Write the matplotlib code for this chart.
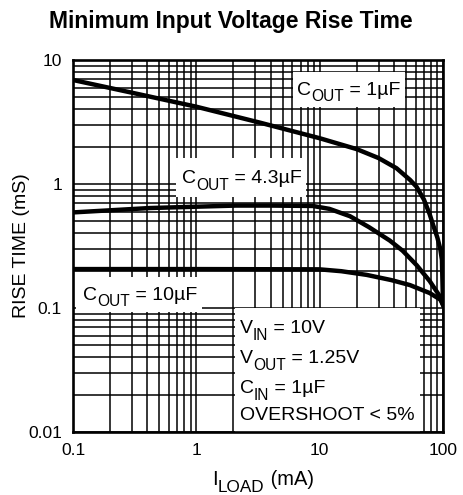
import matplotlib
matplotlib.use("Agg")
import matplotlib.pyplot as plt
from matplotlib.patches import Rectangle
from matplotlib.transforms import offset_copy

plt.rcParams['font.family'] = ['Liberation Sans', 'DejaVu Sans']

# Data (I_LOAD in mA, rise time in ms)
x_1uF = [0.1, 0.3, 1, 3.3, 10, 20, 30, 42, 54, 61, 70, 78, 83, 90, 95, 98, 100]
y_1uF = [6.9, 5.45, 4.2, 3.12, 2.34, 1.91, 1.62, 1.34, 1.08, 0.95, 0.75, 0.57, 0.47, 0.37, 0.30, 0.245, 0.11]

x_43uF = [0.1, 0.42, 2.1, 4, 8.8, 12, 17.6, 25, 37, 47, 61, 78, 95, 100]
y_43uF = [0.59, 0.64, 0.67, 0.67, 0.665, 0.63, 0.55, 0.45, 0.35, 0.29, 0.222, 0.165, 0.123, 0.106]

x_10uF = [0.1, 1, 10, 15, 24, 38, 54, 78, 95, 100]
y_10uF = [0.206, 0.206, 0.205, 0.198, 0.185, 0.168, 0.153, 0.132, 0.117, 0.106]

xticks = [0.1, 1, 10, 100]
xtick_labels = ['0.1', '1', '10', '100']
yticks = [0.01, 0.1, 1, 10]
ytick_labels = ['0.01', '0.1', '1', '10']

fig = plt.figure(figsize=(4.63, 4.95), dpi=100)
ax = fig.add_axes([73/463, 1-432/495, 370/463, 372/495])
ax.set_xscale('log')
ax.set_yscale('log')
ax.set_xlim(0.1, 100)
ax.set_ylim(0.01, 10)

ax.grid(which='both', color='black', lw=1.1, zorder=0)
ax.set_axisbelow(True)
for s in ax.spines.values():
    s.set_linewidth(1.9)
    s.set_zorder(5)

ax.set_xticks(xticks)
ax.set_xticklabels(xtick_labels)
ax.set_yticks(yticks)
ax.set_yticklabels(ytick_labels)
ax.tick_params(which='both', length=0, labelsize=12.5, pad=8)

# white label boxes (axes fraction)
boxes = [(0.594, 0.874, 0.303, 0.094),
         (0.278, 0.632, 0.352, 0.105),
         (0.008, 0.323, 0.341, 0.094),
         (0.438, 0.0, 0.500, 0.333)]
for (bx, by, bw, bh) in boxes:
    ax.add_patch(Rectangle((bx, by), bw, bh, transform=ax.transAxes,
                           facecolor='white', edgecolor='none', zorder=2))

lw = 3.2
for xs, ys in [(x_1uF, y_1uF), (x_43uF, y_43uF), (x_10uF, y_10uF)]:
    ax.plot(xs, ys, color='black', lw=lw, zorder=3, solid_joinstyle='round')

renderer = fig.canvas.get_renderer()


def rich_text(base_trans, x, y, parts, fs, sub_scale=0.8, sub_drop=6.5, ha='left', **kw):
    """parts: list of (string, is_subscript). Draw pieces side by side."""
    texts = []
    dx = 0.0
    for s, sub in parts:
        size = fs * sub_scale if sub else fs
        dy = -sub_drop if sub else 0.0
        tr = offset_copy(base_trans, fig=fig, x=dx, y=dy, units='dots')
        t = fig.text(x, y, s, transform=tr, fontsize=size, va='baseline', ha='left', **kw)
        w = t.get_window_extent(renderer).width
        texts.append((t, dx, dy))
        dx += w
    if ha == 'center':
        for t, d0, d1 in texts:
            t.set_transform(offset_copy(base_trans, fig=fig, x=d0 - dx / 2, y=d1, units='dots'))
    return texts


fs = 14
rich_text(ax.transAxes, 0.605, 0.906, [('C', False), ('OUT', True), (' = 1µF', False)], fs, zorder=4)
rich_text(ax.transAxes, 0.294, 0.669, [('C', False), ('OUT', True), (' = 4.3µF', False)], fs, zorder=4)
rich_text(ax.transAxes, 0.027, 0.355, [('C', False), ('OUT', True), (' = 10µF', False)], fs, zorder=4)

rich_text(ax.transAxes, 0.451, 0.266, [('V', False), ('IN', True), (' = 10V', False)], fs, zorder=4)
rich_text(ax.transAxes, 0.451, 0.185, [('V', False), ('OUT', True), (' = 1.25V', False)], fs, zorder=4)
rich_text(ax.transAxes, 0.451, 0.104, [('C', False), ('IN', True), (' = 1µF', False)], fs, zorder=4)
rich_text(ax.transAxes, 0.451, 0.032, [('OVERSHOOT < 5%', False)], fs, zorder=4)

fig.text(0.499, 0.943, 'Minimum Input Voltage Rise Time', fontsize=16.5,
         fontweight='bold', ha='center', va='baseline')
rich_text(fig.transFigure, 0.568, 1-485/495, [('I', False), ('LOAD', True), (' (mA)', False)],
          14.5, sub_scale=0.85, sub_drop=7, ha='center')
fig.text(22/463, 1-246/495, 'RISE TIME (mS)', fontsize=14, rotation=90,
         ha='center', va='center')

fig.savefig('out.png', dpi=100)
